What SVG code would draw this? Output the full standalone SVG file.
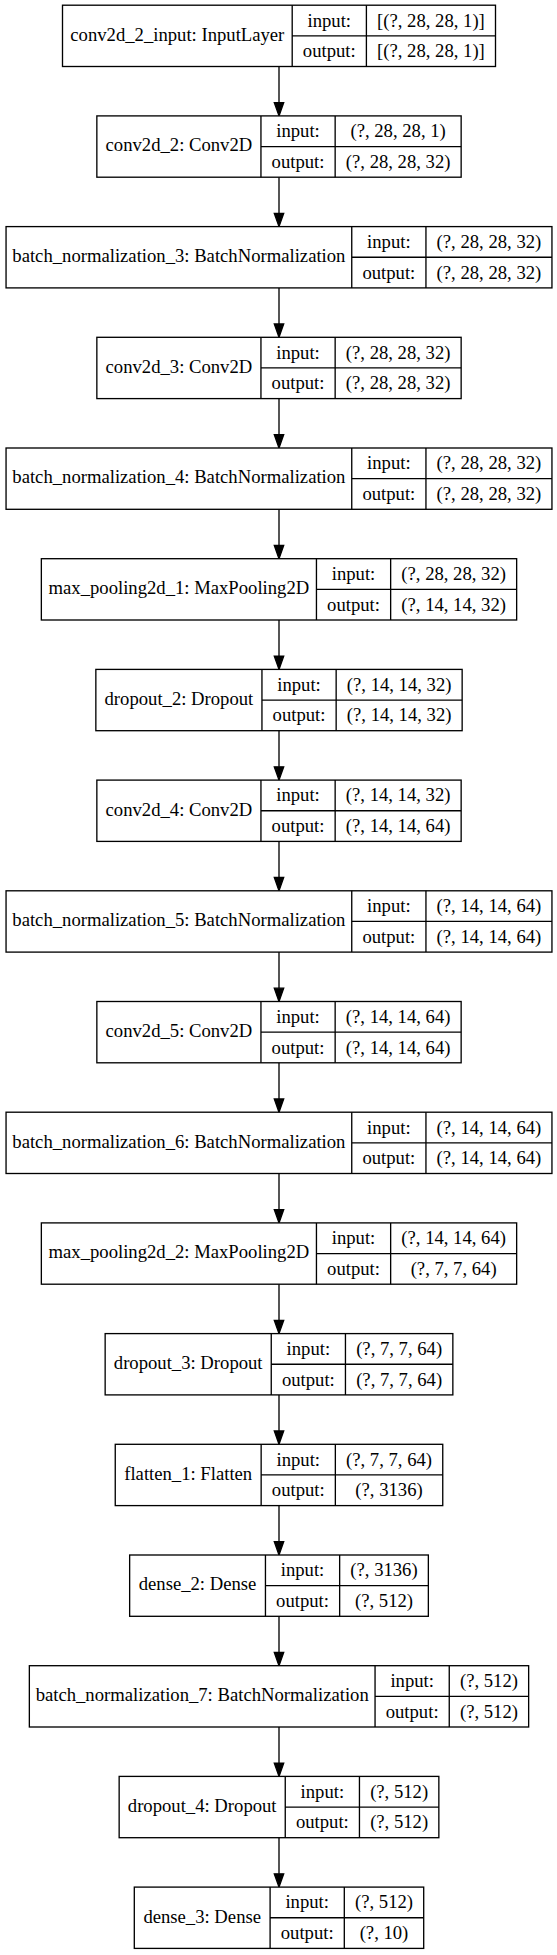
<svg xmlns="http://www.w3.org/2000/svg" width="557" height="1955" viewBox="0 0 557 1955">
<style>
.b{fill:#fff;stroke:#000;stroke-width:1.33}
.s{fill:none;stroke:#000;stroke-width:1.33}
text{font-family:"Liberation Serif","Times New Roman",serif;font-size:18.67px;fill:#000;text-anchor:middle}
.e{fill:none;stroke:#000;stroke-width:1.33}
.h{fill:#000;stroke:#000;stroke-width:1.33}
</style>
<rect width="557" height="1955" fill="#fff"/>
<g id="edges">
<path class="e" d="M279 66.5V102.6"/><polygon class="h" points="279,115.9 274.3,102.6 283.7,102.6"/>
<path class="e" d="M279 177.2V213.3"/><polygon class="h" points="279,226.6 274.3,213.3 283.7,213.3"/>
<path class="e" d="M279 287.9V324"/><polygon class="h" points="279,337.3 274.3,324 283.7,324"/>
<path class="e" d="M279 398.6V434.7"/><polygon class="h" points="279,448 274.3,434.7 283.7,434.7"/>
<path class="e" d="M279 509.3V545.4"/><polygon class="h" points="279,558.7 274.3,545.4 283.7,545.4"/>
<path class="e" d="M279 620V656.1"/><polygon class="h" points="279,669.4 274.3,656.1 283.7,656.1"/>
<path class="e" d="M279 730.7V766.8"/><polygon class="h" points="279,780.1 274.3,766.8 283.7,766.8"/>
<path class="e" d="M279 841.4V877.5"/><polygon class="h" points="279,890.8 274.3,877.5 283.7,877.5"/>
<path class="e" d="M279 952.1V988.2"/><polygon class="h" points="279,1001.5 274.3,988.2 283.7,988.2"/>
<path class="e" d="M279 1062.8V1098.9"/><polygon class="h" points="279,1112.2 274.3,1098.9 283.7,1098.9"/>
<path class="e" d="M279 1173.5V1209.6"/><polygon class="h" points="279,1222.9 274.3,1209.6 283.7,1209.6"/>
<path class="e" d="M279 1284.2V1320.3"/><polygon class="h" points="279,1333.6 274.3,1320.3 283.7,1320.3"/>
<path class="e" d="M279 1394.9V1431"/><polygon class="h" points="279,1444.3 274.3,1431 283.7,1431"/>
<path class="e" d="M279 1505.6V1541.7"/><polygon class="h" points="279,1555 274.3,1541.7 283.7,1541.7"/>
<path class="e" d="M279 1616.3V1652.4"/><polygon class="h" points="279,1665.7 274.3,1652.4 283.7,1652.4"/>
<path class="e" d="M279 1727V1763.1"/><polygon class="h" points="279,1776.4 274.3,1763.1 283.7,1763.1"/>
<path class="e" d="M279 1837.7V1873.8"/><polygon class="h" points="279,1887.1 274.3,1873.8 283.7,1873.8"/>
</g>

<g id="n0">
<rect class="b" x="62.5" y="5.2" width="433" height="61.3"/>
<path class="s" d="M292.2 5.2V66.5M366.4 5.2V66.5M292.2 35.85H495.5"/>
<text x="177.35" y="40.6">conv2d_2_input: InputLayer</text>
<text x="329.3" y="26.5">input:</text><text x="329.3" y="57.2">output:</text>
<text x="430.95" y="26.5">[(?, 28, 28, 1)]</text><text x="430.95" y="57.2">[(?, 28, 28, 1)]</text>
</g>

<g id="n1">
<rect class="b" x="96.85" y="115.9" width="364.3" height="61.3"/>
<path class="s" d="M260.95 115.9V177.2M335.15 115.9V177.2M260.95 146.55H461.15"/>
<text x="178.9" y="151.3">conv2d_2: Conv2D</text>
<text x="298.05" y="137.2">input:</text><text x="298.05" y="167.9">output:</text>
<text x="398.15" y="137.2">(?, 28, 28, 1)</text><text x="398.15" y="167.9">(?, 28, 28, 32)</text>
</g>

<g id="n2">
<rect class="b" x="6.05" y="226.6" width="545.9" height="61.3"/>
<path class="s" d="M351.75 226.6V287.9M425.95 226.6V287.9M351.75 257.25H551.95"/>
<text x="178.9" y="262">batch_normalization_3: BatchNormalization</text>
<text x="388.85" y="247.9">input:</text><text x="388.85" y="278.6">output:</text>
<text x="488.95" y="247.9">(?, 28, 28, 32)</text><text x="488.95" y="278.6">(?, 28, 28, 32)</text>
</g>

<g id="n3">
<rect class="b" x="96.85" y="337.3" width="364.3" height="61.3"/>
<path class="s" d="M260.95 337.3V398.6M335.15 337.3V398.6M260.95 367.95H461.15"/>
<text x="178.9" y="372.7">conv2d_3: Conv2D</text>
<text x="298.05" y="358.6">input:</text><text x="298.05" y="389.3">output:</text>
<text x="398.15" y="358.6">(?, 28, 28, 32)</text><text x="398.15" y="389.3">(?, 28, 28, 32)</text>
</g>

<g id="n4">
<rect class="b" x="6.05" y="448" width="545.9" height="61.3"/>
<path class="s" d="M351.75 448V509.3M425.95 448V509.3M351.75 478.65H551.95"/>
<text x="178.9" y="483.4">batch_normalization_4: BatchNormalization</text>
<text x="388.85" y="469.3">input:</text><text x="388.85" y="500">output:</text>
<text x="488.95" y="469.3">(?, 28, 28, 32)</text><text x="488.95" y="500">(?, 28, 28, 32)</text>
</g>

<g id="n5">
<rect class="b" x="41.35" y="558.7" width="475.3" height="61.3"/>
<path class="s" d="M316.45 558.7V620M390.65 558.7V620M316.45 589.35H516.65"/>
<text x="178.9" y="594.1">max_pooling2d_1: MaxPooling2D</text>
<text x="353.55" y="580">input:</text><text x="353.55" y="610.7">output:</text>
<text x="453.65" y="580">(?, 28, 28, 32)</text><text x="453.65" y="610.7">(?, 14, 14, 32)</text>
</g>

<g id="n6">
<rect class="b" x="95.85" y="669.4" width="366.3" height="61.3"/>
<path class="s" d="M261.95 669.4V730.7M336.15 669.4V730.7M261.95 700.05H462.15"/>
<text x="178.9" y="704.8">dropout_2: Dropout</text>
<text x="299.05" y="690.7">input:</text><text x="299.05" y="721.4">output:</text>
<text x="399.15" y="690.7">(?, 14, 14, 32)</text><text x="399.15" y="721.4">(?, 14, 14, 32)</text>
</g>

<g id="n7">
<rect class="b" x="96.85" y="780.1" width="364.3" height="61.3"/>
<path class="s" d="M260.95 780.1V841.4M335.15 780.1V841.4M260.95 810.75H461.15"/>
<text x="178.9" y="815.5">conv2d_4: Conv2D</text>
<text x="298.05" y="801.4">input:</text><text x="298.05" y="832.1">output:</text>
<text x="398.15" y="801.4">(?, 14, 14, 32)</text><text x="398.15" y="832.1">(?, 14, 14, 64)</text>
</g>

<g id="n8">
<rect class="b" x="6.05" y="890.8" width="545.9" height="61.3"/>
<path class="s" d="M351.75 890.8V952.1M425.95 890.8V952.1M351.75 921.45H551.95"/>
<text x="178.9" y="926.2">batch_normalization_5: BatchNormalization</text>
<text x="388.85" y="912.1">input:</text><text x="388.85" y="942.8">output:</text>
<text x="488.95" y="912.1">(?, 14, 14, 64)</text><text x="488.95" y="942.8">(?, 14, 14, 64)</text>
</g>

<g id="n9">
<rect class="b" x="96.85" y="1001.5" width="364.3" height="61.3"/>
<path class="s" d="M260.95 1001.5V1062.8M335.15 1001.5V1062.8M260.95 1032.15H461.15"/>
<text x="178.9" y="1036.9">conv2d_5: Conv2D</text>
<text x="298.05" y="1022.8">input:</text><text x="298.05" y="1053.5">output:</text>
<text x="398.15" y="1022.8">(?, 14, 14, 64)</text><text x="398.15" y="1053.5">(?, 14, 14, 64)</text>
</g>

<g id="n10">
<rect class="b" x="6.05" y="1112.2" width="545.9" height="61.3"/>
<path class="s" d="M351.75 1112.2V1173.5M425.95 1112.2V1173.5M351.75 1142.85H551.95"/>
<text x="178.9" y="1147.6">batch_normalization_6: BatchNormalization</text>
<text x="388.85" y="1133.5">input:</text><text x="388.85" y="1164.2">output:</text>
<text x="488.95" y="1133.5">(?, 14, 14, 64)</text><text x="488.95" y="1164.2">(?, 14, 14, 64)</text>
</g>

<g id="n11">
<rect class="b" x="41.35" y="1222.9" width="475.3" height="61.3"/>
<path class="s" d="M316.45 1222.9V1284.2M390.65 1222.9V1284.2M316.45 1253.55H516.65"/>
<text x="178.9" y="1258.3">max_pooling2d_2: MaxPooling2D</text>
<text x="353.55" y="1244.2">input:</text><text x="353.55" y="1274.9">output:</text>
<text x="453.65" y="1244.2">(?, 14, 14, 64)</text><text x="453.65" y="1274.9">(?, 7, 7, 64)</text>
</g>

<g id="n12">
<rect class="b" x="105.15" y="1333.6" width="347.7" height="61.3"/>
<path class="s" d="M271.25 1333.6V1394.9M345.45 1333.6V1394.9M271.25 1364.25H452.85"/>
<text x="188.2" y="1369">dropout_3: Dropout</text>
<text x="308.35" y="1354.9">input:</text><text x="308.35" y="1385.6">output:</text>
<text x="399.15" y="1354.9">(?, 7, 7, 64)</text><text x="399.15" y="1385.6">(?, 7, 7, 64)</text>
</g>

<g id="n13">
<rect class="b" x="115.25" y="1444.3" width="327.5" height="61.3"/>
<path class="s" d="M261.15 1444.3V1505.6M335.35 1444.3V1505.6M261.15 1474.95H442.75"/>
<text x="188.2" y="1479.7">flatten_1: Flatten</text>
<text x="298.25" y="1465.6">input:</text><text x="298.25" y="1496.3">output:</text>
<text x="389.05" y="1465.6">(?, 7, 7, 64)</text><text x="389.05" y="1496.3">(?, 3136)</text>
</g>

<g id="n14">
<rect class="b" x="129.65" y="1555" width="298.7" height="61.3"/>
<path class="s" d="M265.45 1555V1616.3M339.65 1555V1616.3M265.45 1585.65H428.35"/>
<text x="197.55" y="1590.4">dense_2: Dense</text>
<text x="302.55" y="1576.3">input:</text><text x="302.55" y="1607">output:</text>
<text x="384" y="1576.3">(?, 3136)</text><text x="384" y="1607">(?, 512)</text>
</g>

<g id="n15">
<rect class="b" x="29.35" y="1665.7" width="499.3" height="61.3"/>
<path class="s" d="M375.05 1665.7V1727M449.25 1665.7V1727M375.05 1696.35H528.65"/>
<text x="202.2" y="1701.1">batch_normalization_7: BatchNormalization</text>
<text x="412.15" y="1687">input:</text><text x="412.15" y="1717.7">output:</text>
<text x="488.95" y="1687">(?, 512)</text><text x="488.95" y="1717.7">(?, 512)</text>
</g>

<g id="n16">
<rect class="b" x="119.15" y="1776.4" width="319.7" height="61.3"/>
<path class="s" d="M285.25 1776.4V1837.7M359.45 1776.4V1837.7M285.25 1807.05H438.85"/>
<text x="202.2" y="1811.8">dropout_4: Dropout</text>
<text x="322.35" y="1797.7">input:</text><text x="322.35" y="1828.4">output:</text>
<text x="399.15" y="1797.7">(?, 512)</text><text x="399.15" y="1828.4">(?, 512)</text>
</g>

<g id="n17">
<rect class="b" x="134.3" y="1887.1" width="289.4" height="61.3"/>
<path class="s" d="M270.1 1887.1V1948.4M344.3 1887.1V1948.4M270.1 1917.75H423.7"/>
<text x="202.2" y="1922.5">dense_3: Dense</text>
<text x="307.2" y="1908.4">input:</text><text x="307.2" y="1939.1">output:</text>
<text x="384" y="1908.4">(?, 512)</text><text x="384" y="1939.1">(?, 10)</text>
</g>
</svg>
